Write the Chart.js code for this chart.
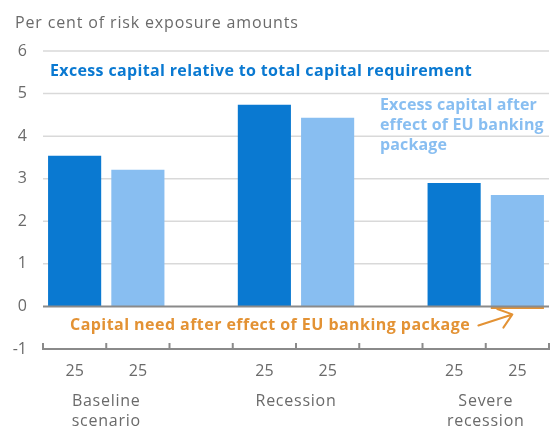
<!DOCTYPE html>
<html>
<head>
<meta charset="utf-8">
<script src="https://cdn.jsdelivr.net/npm/chart.js@4"></script>
<style>
  html, body { margin: 0; padding: 0; background: #ffffff; }
  #wrap { width: 551px; height: 426px; position: relative; }
</style>
</head>
<body>
<div id="wrap"><canvas id="chart"></canvas></div>
<script>
// Scenario groups and the horizon label shown under each bar
const scenarios = [['Baseline', 'scenario'], ['Recession'], ['Severe', 'recession']];
const horizonLabel = '25';

// Per cent of risk exposure amounts
const excessCapital = [3.54, 4.74, 2.90];        // relative to total capital requirement
const excessAfterPackage = [3.21, 4.43, 2.62];   // after effect of EU banking package
const capitalNeed = [0, 0, -0.06];               // capital need after EU banking package

const yTicks = [-1, 0, 1, 2, 3, 4, 5, 6];

const DARK = '#0a79d1';
const LIGHT = '#88bef1';
const ORANGE = '#e39234';
const GREY_TEXT = '#6a6a6a';
const FONT = '"Open Sans", "Noto Sans", sans-serif';

// Slot layout: two bars per scenario, one empty slot between scenarios
const labels = [];
const darkData = [];
const lightData = [];
const needData = [];
scenarios.forEach((s, i) => {
  labels.push(horizonLabel, horizonLabel);
  darkData.push(excessCapital[i], null);
  lightData.push(null, excessAfterPackage[i]);
  needData.push(null, capitalNeed[i] !== 0 ? capitalNeed[i] : null);
  if (i < scenarios.length - 1) {
    labels.push('');
    darkData.push(null);
    lightData.push(null);
    needData.push(null);
  }
});

const decorations = {
  id: 'decorations',
  beforeDatasetsDraw(chart) {
    const { ctx, scales: { x, y }, chartArea } = chart;
    ctx.save();
    // horizontal grid lines
    ctx.strokeStyle = '#d9d9d9';
    ctx.lineWidth = 1.5;
    yTicks.forEach(v => {
      if (v === 0 || v === -1) return;
      const py = y.getPixelForValue(v);
      ctx.beginPath();
      ctx.moveTo(chartArea.left, py);
      ctx.lineTo(chartArea.right, py);
      ctx.stroke();
    });
    // upward tick marks on the category axis
    const slot = x.getPixelForValue(1) - x.getPixelForValue(0);
    ctx.strokeStyle = '#8a8a8a';
    ctx.lineWidth = 2;
    for (let i = 0; i <= labels.length; i++) {
      const px = x.getPixelForValue(0) - slot / 2 + i * slot;
      ctx.beginPath();
      ctx.moveTo(px, chartArea.bottom);
      ctx.lineTo(px, chartArea.bottom - 6);
      ctx.stroke();
    }
    ctx.restore();
  },
  afterDatasetsDraw(chart) {
    const { ctx, scales: { x, y }, chartArea } = chart;
    ctx.save();
    // zero line
    const y0 = y.getPixelForValue(0);
    ctx.strokeStyle = '#8a8a8a';
    ctx.lineWidth = 2;
    ctx.beginPath();
    ctx.moveTo(chartArea.left, y0);
    ctx.lineTo(chartArea.right, y0);
    ctx.stroke();

    ctx.textBaseline = 'alphabetic';
    ctx.textAlign = 'left';

    // axis caption
    ctx.fillStyle = GREY_TEXT;
    ctx.font = '16px ' + FONT;
    ctx.letterSpacing = '0.85px';
    ctx.fillText('Per cent of risk exposure amounts', 15, 28);

    // series labels
    ctx.font = 'bold 16px ' + FONT;
    ctx.letterSpacing = '0.35px';
    ctx.fillStyle = DARK;
    ctx.fillText('Excess capital relative to total capital requirement', 50, 76);

    ctx.fillStyle = LIGHT;
    ctx.letterSpacing = '0.15px';
    ['Excess capital after', 'effect of EU banking', 'package'].forEach((t, i) => {
      ctx.fillText(t, 380, 110 + i * 20);
    });

    ctx.fillStyle = ORANGE;
    ctx.letterSpacing = '0.45px';
    ctx.fillText('Capital need after effect of EU banking package', 70, 330);

    // arrow pointing at the capital need bar
    const tipX = x.getPixelForValue(labels.length - 1) - 5;
    const tipY = y0 + 8;
    const startX = tipX - 34;
    const startY = tipY + 11;
    const ang = Math.atan2(startY - tipY, startX - tipX);
    const head = 16;
    ctx.strokeStyle = ORANGE;
    ctx.lineWidth = 2;
    ctx.lineCap = 'round';
    ctx.lineJoin = 'round';
    ctx.beginPath();
    ctx.moveTo(startX, startY);
    ctx.lineTo(tipX, tipY);
    ctx.moveTo(tipX + head * Math.cos(ang + 0.66), tipY + head * Math.sin(ang + 0.66));
    ctx.lineTo(tipX, tipY);
    ctx.lineTo(tipX + head * Math.cos(ang - 0.66), tipY + head * Math.sin(ang - 0.66));
    ctx.stroke();

    // scenario group labels
    ctx.fillStyle = GREY_TEXT;
    ctx.font = '16px ' + FONT;
    ctx.letterSpacing = '0.75px';
    ctx.textAlign = 'center';
    scenarios.forEach((lines, i) => {
      const cx = (x.getPixelForValue(i * 3) + x.getPixelForValue(i * 3 + 1)) / 2;
      lines.forEach((t, j) => ctx.fillText(t, cx, 406 + j * 20));
    });
    ctx.restore();
  }
};

new Chart(document.getElementById('chart'), {
  type: 'bar',
  data: {
    labels: labels,
    datasets: [
      { label: 'Excess capital relative to total capital requirement', data: darkData, backgroundColor: DARK },
      { label: 'Excess capital after effect of EU banking package', data: lightData, backgroundColor: LIGHT },
      { label: 'Capital need after effect of EU banking package', data: needData, backgroundColor: ORANGE }
    ]
  },
  options: {
    responsive: true,
    maintainAspectRatio: false,
    animation: false,
    devicePixelRatio: 1,
    datasets: { bar: { barPercentage: 0.84, categoryPercentage: 1.0 } },
    layout: { padding: { top: 51, right: 2, left: 0, bottom: 0 } },
    plugins: { legend: { display: false }, tooltip: { enabled: false }, title: { display: false } },
    scales: {
      x: {
        stacked: true,
        grid: { display: false, drawTicks: false },
        border: { display: true, color: '#8a8a8a', width: 2 },
        ticks: { color: GREY_TEXT, font: { family: FONT, size: 16 }, padding: 13, maxRotation: 0, autoSkip: false },
        afterFit(scale) { scale.height = 77; }
      },
      y: {
        stacked: true,
        min: -1,
        max: 6,
        afterBuildTicks(scale) { scale.ticks = yTicks.map(v => ({ value: v })); },
        grid: { display: false, drawTicks: false },
        border: { display: false },
        ticks: { color: GREY_TEXT, font: { family: FONT, size: 16 }, padding: 16 },
        afterFit(scale) { scale.width = 43; }
      }
    }
  },
  plugins: [decorations]
});
</script>
</body>
</html>
